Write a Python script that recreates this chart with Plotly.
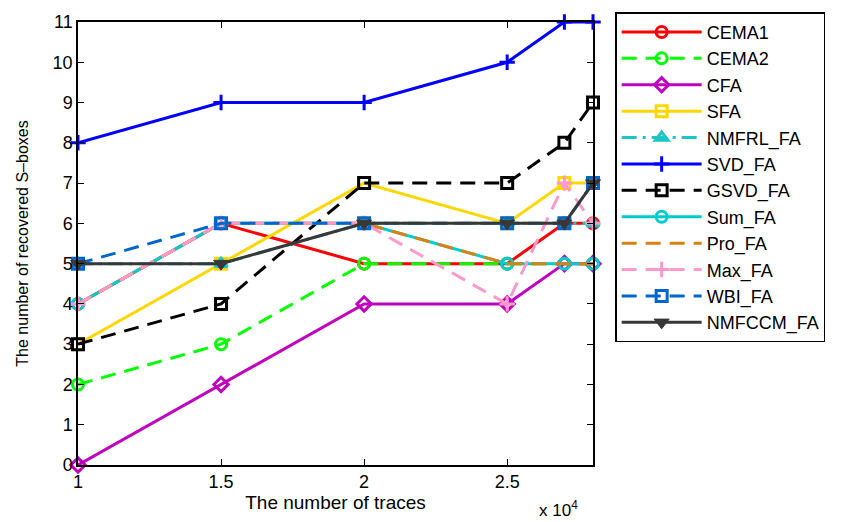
import plotly.graph_objects as go

x_traces = [10000, 15000, 20000, 25000, 27000, 28000]

series_names = ["CEMA1", "CEMA2", "CFA", "SFA", "NMFRL_FA", "SVD_FA", "GSVD_FA",
                "Sum_FA", "Pro_FA", "Max_FA", "WBI_FA", "NMFCCM_FA"]
cema1 = [4, 6, 5, 5, 6, 6]
cema2 = [2, 3, 5, 5, 5, 5]
cfa = [0, 2, 4, 4, 5, 5]
sfa = [3, 5, 7, 6, 7, 7]
nmfrl_fa = [5, 5, 6, 6, 6, 6]
svd_fa = [8, 9, 9, 10, 11, 11]
gsvd_fa = [3, 4, 7, 7, 8, 9]
sum_fa = [4, 6, 6, 5, 5, 5]
pro_fa = [4, 6, 6, 5, 5, 5]
max_fa = [4, 6, 6, 4, 7, 6]
wbi_fa = [5, 6, 6, 6, 6, 7]
nmfccm_fa = [5, 5, 6, 6, 6, 7]

x_tickvals = [10000, 15000, 20000, 25000]
x_ticktext = ["1", "1.5", "2", "2.5"]
y_tickvals = list(range(0, 12))

values = [cema1, cema2, cfa, sfa, nmfrl_fa, svd_fa, gsvd_fa, sum_fa, pro_fa, max_fa, wbi_fa, nmfccm_fa]

styles = [
    dict(color="#FF0000", dash="solid", symbol="circle-open", mode="lines+markers"),
    dict(color="#00FF00", dash="15px,9px", symbol="circle-open", mode="lines+markers"),
    dict(color="#BF00BF", dash="solid", symbol="diamond-open", mode="lines+markers"),
    dict(color="#FFD700", dash="solid", symbol="square-open", mode="lines+markers"),
    dict(color="#1CC6C6", dash="15px,6px,3px,6px", symbol="triangle-up-open", mode="lines+markers"),
    dict(color="#0000FF", dash="solid", symbol="cross-thin-open", mode="lines+markers"),
    dict(color="#000000", dash="15px,9px", symbol="square-open", mode="lines+markers"),
    dict(color="#00CCCC", dash="solid", symbol="circle-open", mode="lines+markers"),
    dict(color="#DD8010", dash="15px,9px", symbol="circle-open", mode="lines"),
    dict(color="#FF99CC", dash="15px,9px", symbol="cross-thin-open", mode="lines+markers"),
    dict(color="#0066CC", dash="15px,9px", symbol="square-open", mode="lines+markers"),
    dict(color="#383838", dash="solid", symbol="triangle-down", mode="lines+markers"),
]

fig = go.Figure()
for name, vals, st in zip(series_names, values, styles):
    filled = not st["symbol"].endswith("open")
    fig.add_trace(go.Scatter(
        x=x_traces, y=vals, name=name, mode=st["mode"], cliponaxis=False,
        line=dict(color=st["color"], width=3, dash=st["dash"]),
        marker=dict(symbol=st["symbol"], size=11 if not filled else 13,
                    color=st["color"],
                    line=dict(color=st["color"], width=3 if not filled else 1)),
    ))

font_family = "Arial, Liberation Sans, Helvetica, sans-serif"
fig.update_layout(
    width=866, height=522,
    margin=dict(l=78, r=273, t=13, b=54),
    paper_bgcolor="white", plot_bgcolor="white",
    font=dict(family=font_family, size=18, color="black"),
    showlegend=True,
    legend=dict(x=1.043, y=1.022, xanchor="left", yanchor="top",
                bordercolor="black", borderwidth=1.5, bgcolor="white",
                font=dict(size=18), itemwidth=80, tracegroupgap=0,
                maxheight=1.0),
    xaxis=dict(range=[10000, 28000], tickvals=x_tickvals, ticktext=x_ticktext,
               showgrid=False, zeroline=False, showline=True, linecolor="black",
               linewidth=1.5, mirror="ticks", ticks="inside", ticklen=6,
               tickcolor="black",
               title=dict(text="The number of traces", standoff=4,
                          font=dict(size=19))),
    yaxis=dict(range=[0, 11], tickvals=y_tickvals,
               showgrid=False, zeroline=False, showline=True, linecolor="black",
               linewidth=1.5, mirror="ticks", ticks="inside", ticklen=6,
               tickcolor="black",
               title=dict(text="The number of recovered S\u2013boxes", standoff=20,
                          font=dict(size=16))),
    annotations=[dict(text="x 10<sup>4</sup>", xref="paper", yref="paper",
                      x=0.975, y=-0.07, xanchor="right", yanchor="top",
                      showarrow=False, font=dict(size=17))],
)

fig.write_html("out.html")
